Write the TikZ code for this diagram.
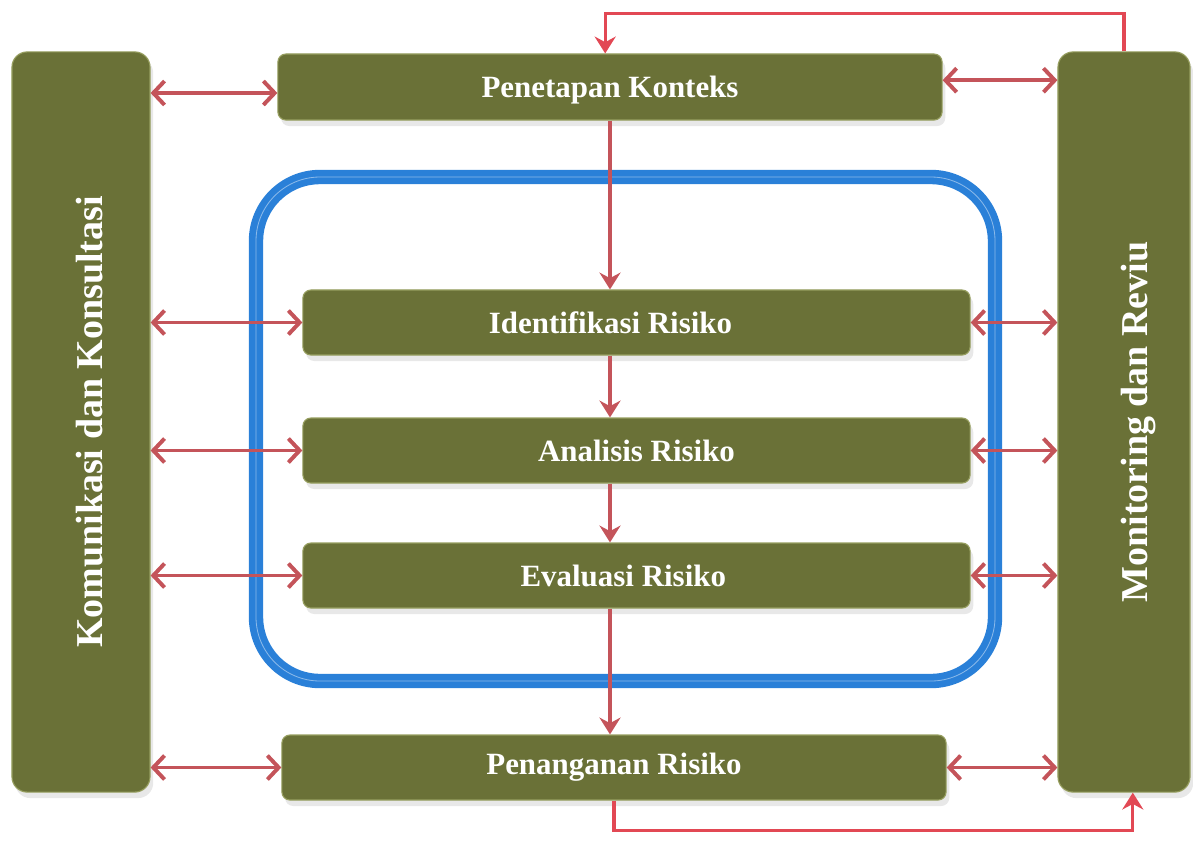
\documentclass[tikz,border=0pt]{standalone}
\usepackage{fontspec}
\setmainfont{Liberation Serif}
\usepackage{tikz}
\usetikzlibrary{arrows.meta,shadows,calc}
\definecolor{olivebox}{RGB}{106,113,55}
\definecolor{oliverim}{RGB}{150,158,95}
\definecolor{arrowred}{RGB}{196,84,90}
\definecolor{looped}{RGB}{226,72,84}
\definecolor{ringblue}{RGB}{42,128,216}

\tikzset{
  box/.style={fill=olivebox, draw=oliverim, line width=0.8pt, rounded corners=0.2cm,
    drop shadow={opacity=0.18, shadow xshift=0.08cm, shadow yshift=-0.15cm}},
  tallbox/.style={box, rounded corners=0.38cm, minimum height=18.5cm},
  lbl/.style={text=white, font=\fontsize{22}{26}\selectfont\bfseries},
  sidelbl/.style={lbl, font=\fontsize{27}{32}\selectfont\bfseries},
  both/.style={arrowred, line width=2.8pt, {Straight Barb[length=8pt,width=17pt]}-{Straight Barb[length=8pt,width=17pt]}},
  flow/.style={arrowred, line width=2.2pt, -{Stealth[length=12pt,width=15pt,inset=4pt]}},
  loopline/.style={looped, line width=2.2pt, -{Stealth[length=12pt,width=15pt,inset=4pt]}}
}

\begin{document}
\begin{tikzpicture}[x=0.025cm, y=-0.025cm]
\useasboundingbox (0,0) rectangle (1193,844);

% ring
\draw[ringblue, line width=0.36cm, rounded corners=1.6cm] (256,177) rectangle (995,681);
\draw[white, opacity=0.45, line width=0.6pt, rounded corners=1.6cm] (256,177) rectangle (995,681);

% side boxes
\node[tallbox, minimum width=3.45cm, label={[sidelbl, xshift=0.22cm, rotate=90]center:Komunikasi dan Konsultasi}] (komunikasi) at (81,422) {};
\node[tallbox, minimum width=3.3cm, label={[sidelbl, xshift=0.37cm, rotate=90]center:Monitoring dan Reviu}] (monitoring) at (1124,422) {};

% process boxes
\node[box, minimum width=16.6cm, minimum height=1.65cm, label={[lbl, yshift=-0.08cm]center:Penetapan Konteks}] (penetapan) at (610,87) {};
\node[box, minimum width=16.675cm, minimum height=1.625cm, label={[lbl, xshift=-0.65cm]center:Identifikasi Risiko}] (identifikasi) at (636.5,322.5) {};
\node[box, minimum width=16.675cm, minimum height=1.625cm, label={[lbl]center:Analisis Risiko}] (analisis) at (636.5,450.5) {};
\node[box, minimum width=16.675cm, minimum height=1.625cm, label={[lbl, xshift=-0.33cm]center:Evaluasi Risiko}] (evaluasi) at (636.5,575.5) {};
\node[box, minimum width=16.6cm, minimum height=1.625cm, label={[lbl]center:Penanganan Risiko}] (penanganan) at (614,767.5) {};

% main flow
\draw[flow] (penetapan.south) -- (penetapan.south |- identifikasi.north);
\draw[flow] (penetapan.south |- identifikasi.south) -- (penetapan.south |- analisis.north);
\draw[flow] (penetapan.south |- analisis.south) -- (penetapan.south |- evaluasi.north);
\draw[flow] (penetapan.south |- evaluasi.south) -- (penetapan.south |- penanganan.north);

% communication
\draw[both] ([yshift=-0.15cm]penetapan.west) -- ([yshift=-0.15cm]penetapan.west -| komunikasi.east);
\draw[both] (identifikasi.west) -- (identifikasi.west -| komunikasi.east);
\draw[both] (analisis.west) -- (analisis.west -| komunikasi.east);
\draw[both] (evaluasi.west) -- (evaluasi.west -| komunikasi.east);
\draw[both] (penanganan.west) -- (penanganan.west -| komunikasi.east);

% monitoring
\draw[both] ([yshift=0.17cm]penetapan.east) -- ([yshift=0.17cm]penetapan.east -| monitoring.west);
\draw[both] (identifikasi.east) -- (identifikasi.east -| monitoring.west);
\draw[both] (analisis.east) -- (analisis.east -| monitoring.west);
\draw[both] (evaluasi.east) -- (evaluasi.east -| monitoring.west);
\draw[both] (penanganan.east) -- (penanganan.east -| monitoring.west);

% feedback
\draw[loopline] (penanganan.south) -- ++(0,30) -| ([xshift=0.22cm]monitoring.south);
\draw[loopline] (monitoring.north) -- ++(0,-38) -| ([xshift=-0.12cm]penetapan.north);
\end{tikzpicture}
\end{document}
